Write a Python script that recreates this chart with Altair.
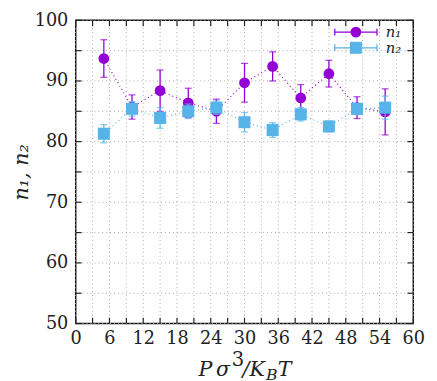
import altair as alt
import pandas as pd

# data
P = [5, 10, 15, 20, 25, 30, 35, 40, 45, 50, 55]
n1 = [93.7, 85.7, 88.4, 86.4, 85.0, 89.7, 92.4, 87.2, 91.2, 85.6, 84.9]
n1_err = [3.1, 2.0, 3.4, 2.4, 2.0, 3.2, 2.4, 2.2, 2.2, 1.8, 3.8]
n2 = [81.3, 85.4, 83.9, 85.0, 85.6, 83.2, 81.9, 84.5, 82.5, 85.4, 85.6]
n2_err = [1.5, 1.2, 1.7, 1.2, 1.1, 1.6, 1.2, 1.1, 0.9, 0.9, 1.9]
x_labels = list(range(0, 61, 6))
y_labels = list(range(50, 101, 10))
x_grid = list(range(0, 61, 3))
y_grid = list(range(50, 101, 5))

W, H = 344, 309
FONT = "DejaVu Serif"
C1 = "#9400D3"
C2 = "#56B4E9"

xs = alt.Scale(domain=[0, 60], nice=False, zero=False)
ys = alt.Scale(domain=[50, 100], nice=False, zero=False)

d1 = pd.DataFrame({"P": P, "v": n1, "lo": [a - b for a, b in zip(n1, n1_err)], "hi": [a + b for a, b in zip(n1, n1_err)]})
d2 = pd.DataFrame({"P": P, "v": n2, "lo": [a - b for a, b in zip(n2, n2_err)], "hi": [a + b for a, b in zip(n2, n2_err)]})
gx = pd.DataFrame({"g": x_grid})
gy = pd.DataFrame({"g": y_grid})

xaxis = alt.Axis(values=x_labels, ticks=False, domain=False, grid=False, title=None,
                 labelFont=FONT, labelFontSize=18, labelColor="#222", labelPadding=6,
                 labelOverlap=False, labelBound=False, labelFlush=False)
yaxis = alt.Axis(values=y_labels, ticks=False, domain=False, grid=False, title="n₁, n₂",
                 labelFont=FONT, labelFontSize=18, labelColor="#222", labelPadding=8,
                 labelOverlap=False, labelBound=False, labelFlush=False,
                 titleFont=FONT, titleFontSize=21, titleFontStyle="italic", titleFontWeight="normal",
                 titleColor="#222", titlePadding=3)


def X(f):
    return alt.X(f, scale=xs, axis=xaxis)


def Y(f):
    return alt.Y(f, scale=ys, axis=yaxis)


gridx = alt.Chart(gx).mark_rule(color="#aaaaaa", strokeWidth=1, strokeDash=[1, 3]).encode(x=X("g:Q"))
gridy = alt.Chart(gy).mark_rule(color="#aaaaaa", strokeWidth=1, strokeDash=[1, 3]).encode(y=Y("g:Q"))

tk = dict(color="#222", strokeWidth=1.2)
tb = alt.Chart(gx).mark_rule(**tk).encode(x=X("g:Q"), y=alt.value(H), y2=alt.value(H - 6))
tt = alt.Chart(gx).mark_rule(**tk).encode(x=X("g:Q"), y=alt.value(0), y2=alt.value(6))
tl = alt.Chart(gy).mark_rule(**tk).encode(y=Y("g:Q"), x=alt.value(0), x2=alt.value(6))
tr = alt.Chart(gy).mark_rule(**tk).encode(y=Y("g:Q"), x=alt.value(W), x2=alt.value(W - 6))


def series(d, color, shape, size):
    line = alt.Chart(d).mark_line(color=color, strokeWidth=1.2, strokeDash=[1, 3]).encode(
        x=X("P:Q"), y=Y("v:Q"))
    bar = alt.Chart(d).mark_rule(color=color, strokeWidth=1.3).encode(
        x=X("P:Q"), y=Y("lo:Q"), y2="hi:Q")
    caplo = alt.Chart(d).mark_tick(color=color, orient="horizontal", size=7, thickness=1.3).encode(
        x=X("P:Q"), y=Y("lo:Q"))
    caphi = alt.Chart(d).mark_tick(color=color, orient="horizontal", size=7, thickness=1.3).encode(
        x=X("P:Q"), y=Y("hi:Q"))
    pts = alt.Chart(d).mark_point(shape=shape, filled=True, opacity=1, color=color, size=size).encode(
        x=X("P:Q"), y=Y("v:Q"))
    return [line, bar, caplo, caphi, pts]


# legend (decoration)
leg_rows = pd.DataFrame({"k": [0]})
def legend_row(yv, color, shape, size, label):
    base = alt.Chart(leg_rows)
    r = base.mark_rule(color=color, strokeWidth=1.3).encode(x=alt.value(264), x2=alt.value(307), y=alt.value(yv))
    c1 = base.mark_rule(color=color, strokeWidth=1.3).encode(x=alt.value(264), y=alt.value(yv - 3.5), y2=alt.value(yv + 3.5))
    c2 = base.mark_rule(color=color, strokeWidth=1.3).encode(x=alt.value(307), y=alt.value(yv - 3.5), y2=alt.value(yv + 3.5))
    p = base.mark_point(shape=shape, filled=True, opacity=1, color=color, size=size).encode(
        x=alt.value(285.5), y=alt.value(yv))
    t = base.mark_text(text=label, font=FONT, fontSize=15, fontStyle="italic", align="left",
                       baseline="middle", color="#222").encode(x=alt.value(316), y=alt.value(yv))
    return [r, c1, c2, p, t]


# x axis title pieces
tbase = alt.Chart(leg_rows)
tstyle = dict(font=FONT, fontStyle="italic", fontSize=21, color="#222", align="left", baseline="alphabetic")
title_parts = [
    tbase.mark_text(text="P", **tstyle).encode(x=alt.value(125), y=alt.value(362)),
    tbase.mark_text(text="σ", **tstyle).encode(x=alt.value(143), y=alt.value(362)),
    tbase.mark_text(text="3", font=FONT, fontSize=20, color="#222", align="left",
                    baseline="alphabetic").encode(x=alt.value(159), y=alt.value(352)),
    tbase.mark_text(text="/K", **tstyle).encode(x=alt.value(170), y=alt.value(362)),
    tbase.mark_text(text="B", font=FONT, fontStyle="italic", fontSize=16, color="#222", align="left",
                    baseline="alphabetic").encode(x=alt.value(194), y=alt.value(367)),
    tbase.mark_text(text="T", **tstyle).encode(x=alt.value(206), y=alt.value(362)),
]

layers = [gridx, gridy, tb, tt, tl, tr]
layers += series(d1, C1, "circle", 120)
layers += series(d2, C2, "square", 150)
layers += legend_row(12, C1, "circle", 120, "n₁")
layers += legend_row(28, C2, "square", 150, "n₂")
layers += title_parts

chart = alt.layer(*layers).properties(
    width=W, height=H,
    autosize=alt.AutoSizeParams(type="none"),
    padding={"left": 69, "top": 9, "right": 16, "bottom": 55},
).configure_view(stroke="#111", strokeWidth=1.5)

chart.save("out.html", embed_options={"renderer": "svg", "actions": False})
